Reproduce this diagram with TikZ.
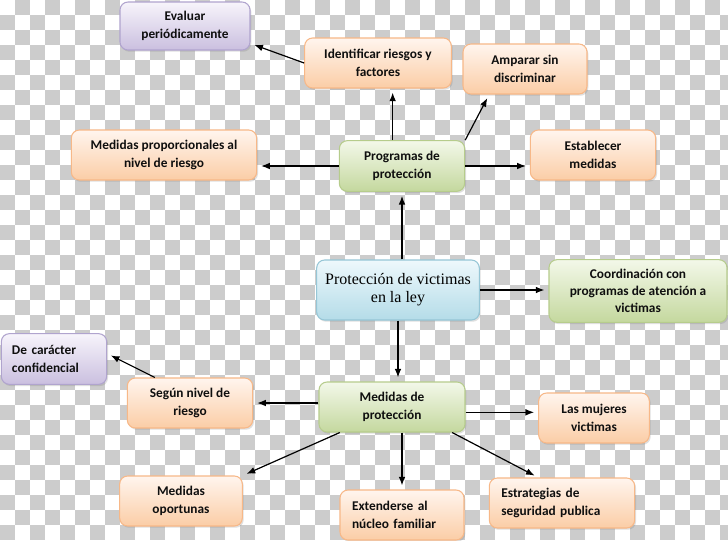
\documentclass[tikz,border=0pt]{standalone}
\usepackage{fontspec}
\setmainfont{Carlito}
\newfontfamily\lawfont{Liberation Serif}
\usetikzlibrary{arrows.meta, shadows}
\definecolor{chkgray}{RGB}{204,204,204}
\definecolor{ortop}{RGB}{255,245,238}
\definecolor{orbot}{RGB}{251,205,166}
\definecolor{ordraw}{RGB}{247,184,136}
\definecolor{grtop}{RGB}{243,248,233}
\definecolor{grbot}{RGB}{196,216,158}
\definecolor{grdraw}{RGB}{182,204,140}
\definecolor{bltop}{RGB}{238,248,252}
\definecolor{blbot}{RGB}{180,220,232}
\definecolor{bldraw}{RGB}{150,198,214}
\definecolor{putop}{RGB}{247,244,251}
\definecolor{pubot}{RGB}{202,191,223}
\definecolor{pudraw}{RGB}{176,164,206}
\definecolor{inkdark}{RGB}{15,15,15}

\begin{document}
\begin{tikzpicture}[
  x=0.75pt, y=-0.75pt,
  every node/.style={font=\bfseries\fontsize{10}{13}\selectfont, text=inkdark},
  box/.style={draw, line width=0.8pt, rounded corners=6pt, align=center,
    inner sep=2pt, minimum height=37.5pt,
    drop shadow={shadow xshift=1pt, shadow yshift=-1.3pt, opacity=0.25}},
  orbox/.style={box, draw=ordraw, top color=ortop, bottom color=orbot},
  grbox/.style={box, draw=grdraw, top color=grtop, bottom color=grbot},
  blbox/.style={box, draw=bldraw, top color=bltop, bottom color=blbot},
  pubox/.style={box, draw=pudraw, top color=putop, bottom color=pubot},
  leftbox/.style={align=left, inner xsep=9pt, text width=#1},
  flow/.style={-{Latex[length=6.5pt, width=5pt]}, line width=0.9pt, black, shorten >=3pt}
]
\useasboundingbox (0,0) rectangle (728,540);

% transparent-style checkerboard
\begin{scope}
\clip (0,0) rectangle (728,540);
\fill[white] (0,0) rectangle (728,540);
\foreach \i in {0,...,48}{
  \foreach \j in {0,...,35}{
    \pgfmathtruncatemacro\odd{mod(\i+\j,2)}
    \ifnum\odd=1 \fill[chkgray] (15*\i,15*\j) rectangle ++(15,15); \fi
  }
}
\end{scope}

% upper branch
\node[pubox, minimum width=97.5pt, minimum height=36pt] (eval) at (185,26) {Evaluar\\periódicamente};
\node[orbox, minimum width=110pt] (ident) at (378,63) {Identificar riesgos y\\factores};
\node[orbox, minimum width=93pt] (ampar) at (525,69) {Amparar sin\\discriminar};
\node[orbox, minimum width=139pt] (medprop) at (164,155) {Medidas proporcionales al\\nivel de riesgo};
\node[grbox, minimum width=94pt, minimum height=38pt] (prog) at (402,166) {Programas de\\protección};
\node[orbox, minimum width=94pt] (estab) at (593,155) {Establecer\\medidas};

% centre
\node[blbox, minimum width=122pt, minimum height=45pt,
  font=\lawfont\fontsize{12}{13.7}\selectfont, text=black] (prot) at (398,290) {Protección de victimas\\en la ley};
\node[grbox, minimum width=133.5pt, minimum height=47pt] (coord) at (638,291) {Coordinación con\\programas de atención a\\victimas};

% lower branch
\node[pubox, leftbox=63pt, inner xsep=8pt, minimum height=38pt] (confid) at (54,359) {De carácter\\confidencial};
\node[orbox, minimum width=94pt] (segun) at (190,403) {Según nivel de\\riesgo};
\node[grbox, minimum width=109.5pt] (medprot) at (392,407) {Medidas de\\protección};
\node[orbox, minimum width=83pt] (mujeres) at (594,418) {Las mujeres\\victimas};
\node[orbox, minimum width=92pt] (oport) at (181,501) {Medidas\\oportunas};
\node[orbox, leftbox=75pt] (extend) at (402,515) {Extenderse al\\núcleo familiar};
\node[orbox, leftbox=91pt] (estrat) at (562,503) {Estrategias de\\seguridad publica};

\draw[flow] (ident.west) -- (eval.-15);
\draw[flow] ([xshift=-7pt]prog.north) -- ([xshift=-7pt]prog.north |- ident.south);
\draw[flow] (prog.north east) -- ([xshift=20pt]ampar.south west);
\draw[flow] (prog.west) -- (prog.west -| medprop.east);
\draw[flow] (prog.east) -- (prog.east -| estab.west);
\draw[flow] (prot.north -| prog.south) -- (prog.south);
\draw[flow] (prot.east) -- (prot.east -| coord.west);
\draw[flow] (prot.south) -- (prot.south |- medprot.north);
\draw[flow] (segun.east -| medprot.west) -- (segun.east);
\draw[flow] ([xshift=21pt]segun.north west) -- ([yshift=4pt]confid.east);
\draw[flow] ([xshift=16pt]medprot.south west) -- (oport.north east);
\draw[flow] ([yshift=-4pt]medprot.east) -- ([yshift=-4pt]medprot.east -| mujeres.west);
\draw[flow] (medprot.south -| extend.north) -- (extend.north);
\draw[flow] ([xshift=-10pt]medprot.south east) -- ([xshift=37pt]estrat.north west);
\end{tikzpicture}
\end{document}
